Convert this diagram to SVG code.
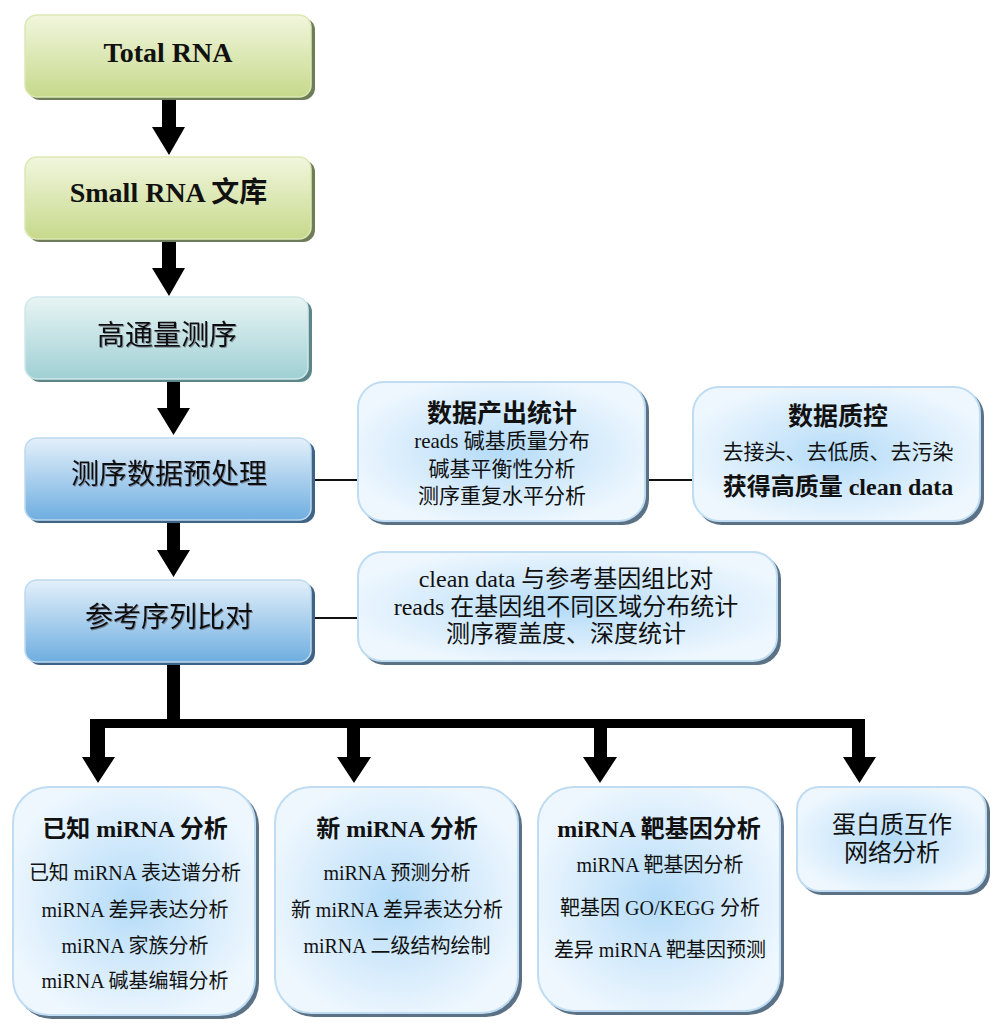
<svg xmlns="http://www.w3.org/2000/svg" width="1000" height="1034" viewBox="0 0 1000 1034">
  <defs>
    <linearGradient id="gGreen" x1="0" y1="0" x2="0" y2="1">
      <stop offset="0" stop-color="#f2f6de"/>
      <stop offset="1" stop-color="#c6d98b"/>
    </linearGradient>
    <linearGradient id="gTeal" x1="0" y1="0" x2="0" y2="1">
      <stop offset="0" stop-color="#e8f4f4"/>
      <stop offset="1" stop-color="#9fd0d4"/>
    </linearGradient>
    <linearGradient id="gBlue" x1="0" y1="0" x2="0" y2="1">
      <stop offset="0" stop-color="#e4f0fa"/>
      <stop offset="1" stop-color="#6eaee0"/>
    </linearGradient>
    <radialGradient id="gGlow" cx="0.5" cy="0.5" r="0.55">
      <stop offset="0" stop-color="#b3dbf8"/>
      <stop offset="0.45" stop-color="#cfe8fb"/>
      <stop offset="1" stop-color="#eef7fe"/>
    </radialGradient>
    <filter id="txtShadow" x="-5%" y="-20%" width="110%" height="140%">
      <feDropShadow dx="1" dy="1" stdDeviation="0.6" flood-color="#556" flood-opacity="0.6"/>
    </filter>
  </defs>
  <style>
    text { font-family: "Liberation Serif", "Noto Sans CJK SC", serif; fill: #111; text-anchor: middle; }
    .b { font-weight: bold; }
    .main { font-size: 28px; filter: url(#txtShadow); }
    .sideT { font-size: 25px; font-weight: bold; }
    .side { font-size: 21px; }
    .ref { font-size: 24px; }
    .botT { font-size: 24px; font-weight: bold; }
    .bot { font-size: 20px; }
    .shGreen { fill: #6f7c58; }
    .shTeal { fill: #5c8587; }
    .shBlue { fill: #3f6384; }
    .shLight { fill: #5b7186; }
    .green { fill: url(#gGreen); stroke: #dbe7b4; stroke-width: 1.5; }
    .teal { fill: url(#gTeal); stroke: #cfe8ea; stroke-width: 1.5; }
    .blue { fill: url(#gBlue); stroke: #bcd9f0; stroke-width: 1.5; }
    .light { fill: url(#gGlow); stroke: #bfdcf2; stroke-width: 2; }
    .line { stroke: #111; stroke-width: 2; fill: none; }
    .arrow { fill: #000; }
  </style>

  <!-- connectors -->
  <g id="connectors">
    <!-- vertical flow arrows -->
    <path class="arrow" d="M162,99 H176 V127 H185 L169,155 L152,127 H162 Z"/>
    <path class="arrow" d="M162,241 H176 V268 H185 L169,296 L152,268 H162 Z"/>
    <path class="arrow" d="M167,381 H180 V408 H190 L173.5,435 L157,408 H167 Z"/>
    <path class="arrow" d="M167,522 H180 V550 H190 L173.5,577 L157,550 H167 Z"/>
    <!-- side links -->
    <line class="line" x1="313" y1="480" x2="358" y2="480"/>
    <line class="line" x1="647" y1="480" x2="693" y2="480"/>
    <line class="line" x1="313" y1="618" x2="358" y2="618"/>
    <!-- branching tree -->
    <rect class="arrow" x="167" y="662" width="13" height="66"/>
    <rect class="arrow" x="90" y="719" width="775" height="9"/>
    <path class="arrow" d="M90,719 H105 V757 H115 L98,783 L82,757 H90 Z"/>
    <path class="arrow" d="M347,719 H360 V757 H371 L354,783 L337,757 H347 Z"/>
    <path class="arrow" d="M594,719 H607 V757 H617 L600,783 L583,757 H594 Z"/>
    <path class="arrow" d="M852,719 H865 V757 H876 L859.5,783 L843,757 H852 Z"/>
  </g>

  <g id="n-total-rna">
    <rect class="shGreen" x="28" y="18" width="287" height="82" rx="12"/>
    <rect class="green" x="25" y="15" width="286" height="82" rx="12"/>
    <text class="b" x="168" y="62" font-size="28">Total RNA</text>
  </g>

  <g id="n-small-rna">
    <rect class="shGreen" x="28" y="160" width="287" height="82" rx="12"/>
    <rect class="green" x="25" y="157" width="286" height="82" rx="12"/>
    <text class="b" x="168.5" y="202" font-size="28">Small RNA 文库</text>
  </g>

  <g id="n-sequencing">
    <rect class="shTeal" x="28" y="300" width="284" height="82" rx="12"/>
    <rect class="teal" x="25" y="297" width="283" height="82" rx="12"/>
    <text class="main" x="167" y="345">高通量测序</text>
  </g>

  <g id="n-preprocess">
    <rect class="shBlue" x="28" y="441" width="287" height="82" rx="12"/>
    <rect class="blue" x="25" y="438" width="286" height="82" rx="12"/>
    <text class="main" x="169" y="484" font-size="29">测序数据预处理</text>
  </g>

  <g id="n-align">
    <rect class="shBlue" x="28" y="583" width="287" height="82" rx="12"/>
    <rect class="blue" x="25" y="580" width="286" height="82" rx="12"/>
    <text class="main" x="169" y="627" font-size="29">参考序列比对</text>
  </g>

  <g id="n-output-stats">
    <rect class="shLight" x="361" y="385" width="288" height="140" rx="26"/>
    <rect class="light" x="358" y="382" width="287" height="139" rx="26"/>
    <text class="sideT" x="502" y="422">数据产出统计</text>
    <text class="side" x="502" y="448">reads 碱基质量分布</text>
    <text class="side" x="502" y="476">碱基平衡性分析</text>
    <text class="side" x="502" y="503">测序重复水平分析</text>
  </g>

  <g id="n-qc">
    <rect class="shLight" x="696" y="390" width="288" height="135" rx="26"/>
    <rect class="light" x="693" y="387" width="287" height="134" rx="26"/>
    <text class="sideT" x="838" y="425">数据质控</text>
    <text class="side" x="838" y="459">去接头、去低质、去污染</text>
    <text class="b" x="838" y="495" font-size="24">获得高质量 clean data</text>
  </g>

  <g id="n-mapping">
    <rect class="shLight" x="361" y="555" width="420" height="110" rx="24"/>
    <rect class="light" x="358" y="552" width="419" height="109" rx="24"/>
    <text class="ref" x="566" y="587">clean data 与参考基因组比对</text>
    <text class="ref" x="566" y="615">reads 在基因组不同区域分布统计</text>
    <text class="ref" x="566" y="642">测序覆盖度、深度统计</text>
  </g>

  <g id="n-known-mirna">
    <rect class="shLight" x="16" y="790" width="243" height="229" rx="36"/>
    <rect class="light" x="13" y="787" width="242" height="228" rx="36"/>
    <text class="botT" x="135" y="837">已知 miRNA 分析</text>
    <text class="bot" x="135" y="880">已知 miRNA 表达谱分析</text>
    <text class="bot" x="135" y="917">miRNA 差异表达分析</text>
    <text class="bot" x="135" y="953">miRNA 家族分析</text>
    <text class="bot" x="135" y="988">miRNA 碱基编辑分析</text>
  </g>

  <g id="n-novel-mirna">
    <rect class="shLight" x="278" y="790" width="244" height="227" rx="36"/>
    <rect class="light" x="275" y="787" width="243" height="226" rx="36"/>
    <text class="botT" x="397" y="837">新 miRNA 分析</text>
    <text class="bot" x="397" y="880">miRNA 预测分析</text>
    <text class="bot" x="397" y="917">新 miRNA 差异表达分析</text>
    <text class="bot" x="397" y="953">miRNA 二级结构绘制</text>
  </g>

  <g id="n-target">
    <rect class="shLight" x="541" y="790" width="243" height="225" rx="36"/>
    <rect class="light" x="538" y="787" width="242" height="224" rx="36"/>
    <text class="botT" x="659" y="837">miRNA 靶基因分析</text>
    <text class="bot" x="660" y="872">miRNA 靶基因分析</text>
    <text class="bot" x="660" y="915">靶基因 GO/KEGG 分析</text>
    <text class="bot" x="660" y="957">差异 miRNA 靶基因预测</text>
  </g>

  <g id="n-ppi">
    <rect class="shLight" x="800" y="790" width="190" height="105" rx="22"/>
    <rect class="light" x="797" y="787" width="189" height="104" rx="22"/>
    <text class="ref" x="892" y="833">蛋白质互作</text>
    <text class="ref" x="892" y="861">网络分析</text>
  </g>
</svg>
